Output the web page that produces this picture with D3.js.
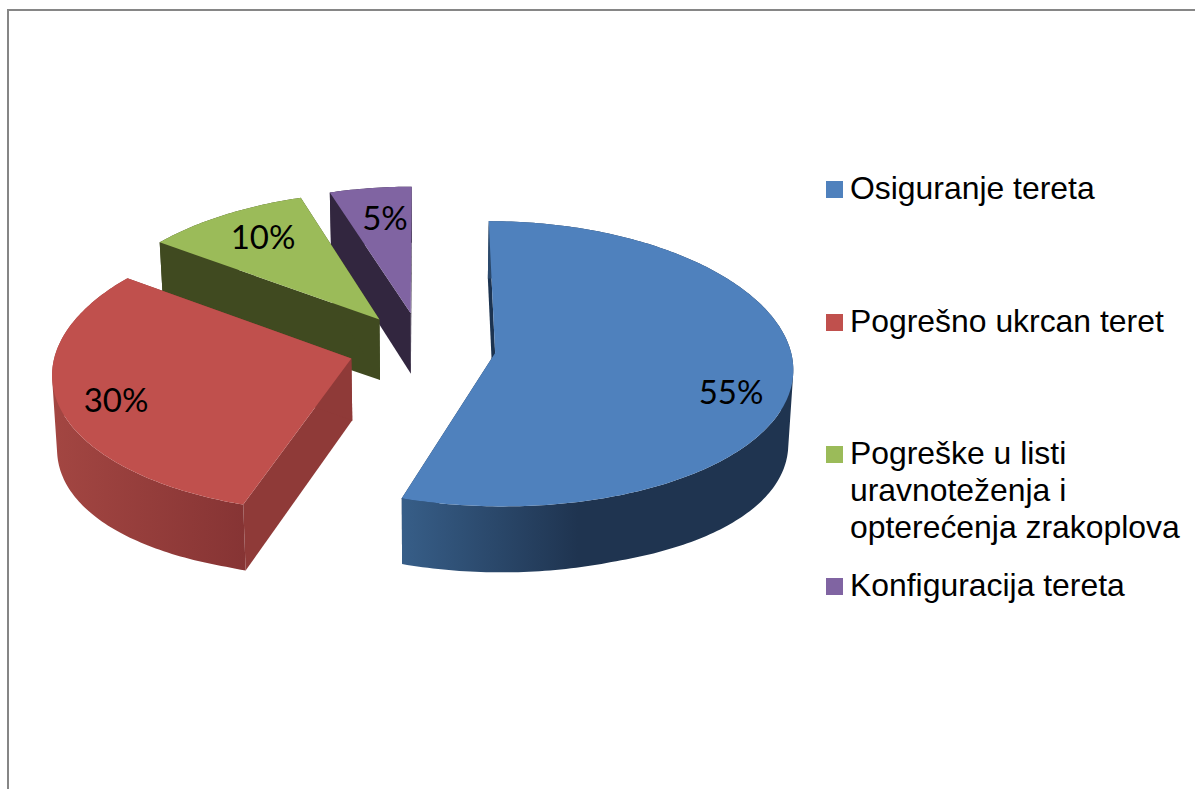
<!DOCTYPE html>
<html>
<head>
<meta charset="utf-8">
<script src="https://cdnjs.cloudflare.com/ajax/libs/d3/7.8.5/d3.min.js"></script>
<style>
    html, body { margin: 0; padding: 0; background: #fff; overflow: hidden; }
    svg { display: block; }
    .legend text { font-family: "Liberation Sans", Arial, sans-serif; font-size: 31.9px; fill: #000; }
    .label { font-family: Lato, sans-serif; font-size: 33px; fill: #000; text-anchor: middle; }
</style>
</head>
<body>
<svg id="chart"></svg>
<script>
let categories = ["Osiguranje tereta", "Pogrešno ukrcan teret", "Pogreške u listi uravnoteženja i opterećenja zrakoplova", "Konfiguracija tereta"];
let values = [55, 30, 10, 5];

let legendLines = [["Osiguranje tereta"], ["Pogrešno ukrcan teret"], ["Pogreške u listi", "uravnoteženja i", "opterećenja zrakoplova"], ["Konfiguracija tereta"]];
let topColors = ["#4f81bd", "#c0504d", "#9bbb59", "#8064a2"];
let cutColors = ["#1c3350", "#8f3a38", "#404a20", "#32263f"];
let wallColors = [["#375e88", "#1f3450"], ["#a34642", "#863434"], ["#404a20", "#404a20"], ["#32263f", "#32263f"]];

let width = 1195,
    height = 789;

// pie plane, seen in perspective
let cx = 422, cy = 347.5,
    rx = 295, ry = 141,
    perspX = 0.095,
    perspY = 0.075,
    explode = 0.25,
    depth = 61.5;

let svg = d3.select("#chart")
    .attr("width", width)
    .attr("height", height);

// frame, only top and left show
svg.append("path")
    .attr("d", "M8,789V10H1195")
    .attr("fill", "none")
    .attr("stroke", "#868686")
    .attr("stroke-width", 2);

let defs = svg.append("defs");

let slices = d3.pie().sort(null).startAngle(0).endAngle(2 * Math.PI)(values);

// h = 0 top of the slice, h = 1 bottom of the slice
function project(u, v, h) {
    let shrink = 1 - 0.0135 * h;
    // the wall gets a bit deeper towards the sides of the pie
    let wall = 1 + 0.07 * v + 0.16 * Math.max(0, u * u - 0.36);
    return [
        cx + rx * u / (1 - perspX * v) * shrink,
        cy + ry * v / (1 - perspY * v) + depth * h * wall
    ];
}

function pointAt(d, angle, r, h) {
    let mid = (d.startAngle + d.endAngle) / 2;
    let u = explode * Math.sin(mid) + r * Math.sin(angle);
    let v = -explode * Math.cos(mid) - r * Math.cos(angle);
    return project(u, v, h);
}

function arcPoints(d, h) {
    let n = Math.ceil((d.endAngle - d.startAngle) * 60);
    return d3.range(n + 1).map(function(i) {
        return pointAt(d, d.startAngle + (d.endAngle - d.startAngle) * i / n, 1, h);
    });
}

let line = d3.line().curve(d3.curveLinear);

// one quad per arc step, all wound the same way so the fill has no holes
function wallPath(d) {
    let tops = arcPoints(d, 0),
        bottoms = arcPoints(d, 1);
    return d3.range(tops.length - 1).map(function(i) {
        let quad = [tops[i], tops[i + 1], bottoms[i + 1], bottoms[i]];
        if (d3.polygonArea(quad) < 0) quad.reverse();
        return line(quad) + "Z";
    }).join("");
}

// back slices first so the front ones cover them
let order = [3, 2, 0, 1];

order.forEach(function(i) {
    let d = slices[i];
    let g = svg.append("g").attr("class", "slice");

    let grad = defs.append("linearGradient").attr("id", "wall" + i);
    grad.append("stop").attr("offset", "0%").attr("stop-color", wallColors[i][0]);
    grad.append("stop").attr("offset", i == 0 ? "45%" : "100%").attr("stop-color", wallColors[i][1]);

    // the two cut faces
    [d.startAngle, d.endAngle].forEach(function(a) {
        g.append("path")
            .attr("d", line([
                pointAt(d, a, 0, 0),
                pointAt(d, a, 1, 0),
                pointAt(d, a, 1, 1),
                pointAt(d, a, 0, 1)
            ]) + "Z")
            .attr("fill", cutColors[i]);
    });

    // outer wall
    g.append("path")
        .attr("d", wallPath(d))
        .attr("fill", "url(#wall" + i + ")");

    // top
    g.append("path")
        .attr("d", line([pointAt(d, d.startAngle, 0, 0)].concat(arcPoints(d, 0))) + "Z")
        .attr("fill", topColors[i]);
});

// data labels sit where the original placed them
let labelX = [731, 116, 263, 385],
    labelY = [404, 412, 249, 230];

svg.selectAll(".label")
    .data(slices)
    .enter()
    .append("text")
    .attr("class", "label")
    .attr("x", function(d, i) { return labelX[i]; })
    .attr("y", function(d, i) { return labelY[i]; })
    .text(function(d) { return d.value + "%"; });

// legend
let legendTop = [198, 331, 463, 595];

let legend = svg.selectAll(".legend")
    .data(categories)
    .enter()
    .append("g")
    .attr("class", "legend")
    .attr("transform", function(d, i) { return "translate(826," + legendTop[i] + ")"; });

legend.append("rect")
    .attr("y", -17)
    .attr("width", 17)
    .attr("height", 17)
    .style("fill", function(d, i) { return topColors[i]; });

legend.each(function(d, i) {
    d3.select(this).selectAll("text")
        .data(legendLines[i])
        .enter()
        .append("text")
        .attr("x", 24)
        .attr("y", function(t, j) { return 1 + j * 37; })
        .text(function(t) { return t; });
});
</script>
</body>
</html>
